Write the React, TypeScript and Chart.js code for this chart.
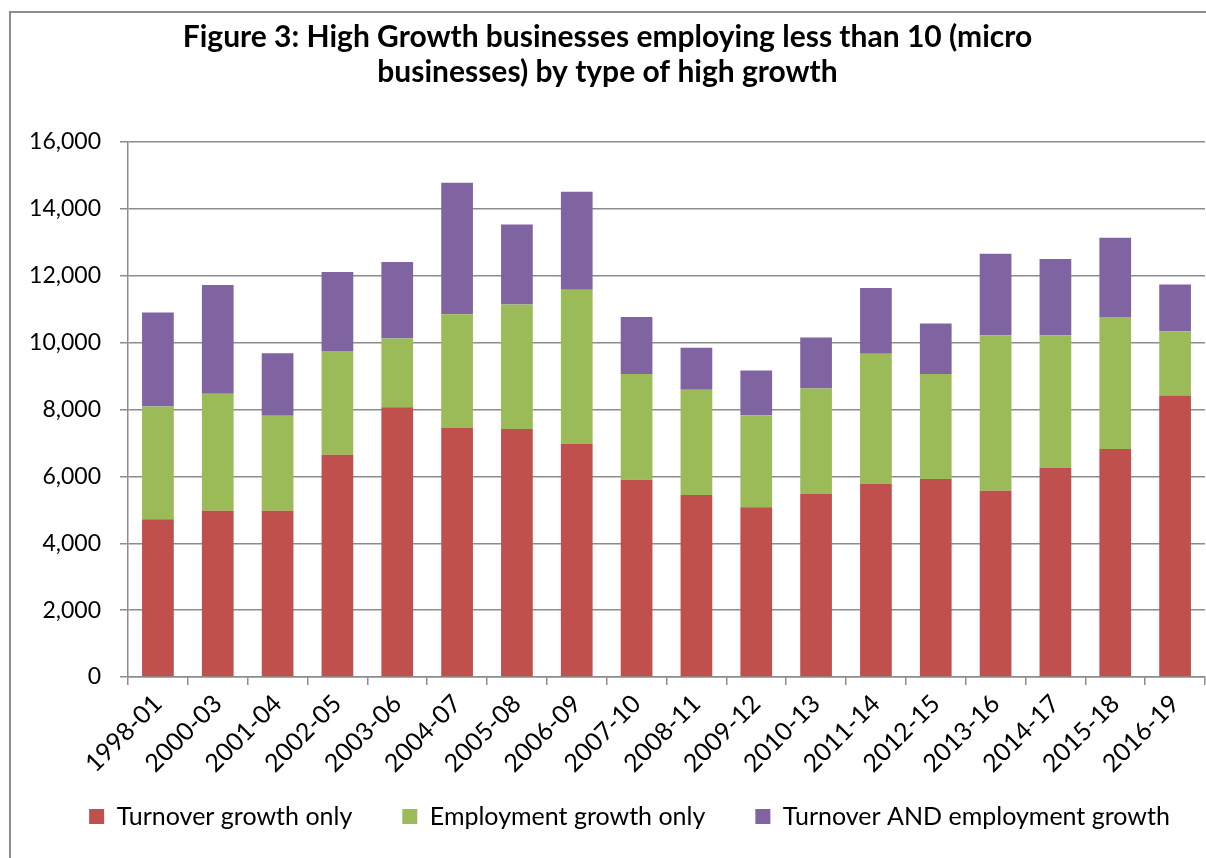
import React, { useEffect, useRef } from "react";
import { Chart, registerables } from "chart.js";

Chart.register(...registerables);

const categories = [
  "1998-01", "2000-03", "2001-04", "2002-05", "2003-06", "2004-07", "2005-08", "2006-09", "2007-10",
  "2008-11", "2009-12", "2010-13", "2011-14", "2012-15", "2013-16", "2014-17", "2015-18", "2016-19",
];
const turnoverOnly = [4720, 4970, 4970, 6650, 8070, 7450, 7420, 6970, 5900, 5440, 5080, 5470, 5770, 5920, 5570, 6260, 6820, 8420];
const employmentOnly = [3370, 3500, 2840, 3100, 2050, 3400, 3720, 4610, 3160, 3150, 2750, 3160, 3900, 3140, 4650, 3960, 3950, 1920];
const turnoverAndEmployment = [2810, 3250, 1870, 2360, 2290, 3930, 2390, 2930, 1710, 1260, 1340, 1520, 1960, 1510, 2440, 2280, 2370, 1400];
const seriesNames = ["Turnover growth only", "Employment growth only", "Turnover AND employment growth"];
const titleLines = ["Figure 3: High Growth businesses employing less than 10 (micro", "businesses) by type of high growth"];
const yMin = 0;
const yMax = 16000;
const yStep = 2000;

const FONT = "Lato, 'Open Sans', sans-serif";
const GRID = "#8c8c8c";

export default function App() {
  const ref = useRef<HTMLCanvasElement | null>(null);

  useEffect(() => {
    if (!ref.current) return;
    const chart = new Chart(ref.current, {
      type: "bar",
      data: {
        labels: categories,
        datasets: [
          { label: seriesNames[0], data: turnoverOnly, backgroundColor: "#C0504D", borderWidth: 0 },
          { label: seriesNames[1], data: employmentOnly, backgroundColor: "#9BBB59", borderWidth: 0 },
          { label: seriesNames[2], data: turnoverAndEmployment, backgroundColor: "#8064A2", borderWidth: 0 },
        ],
      },
      options: {
        responsive: false,
        animation: false,
        devicePixelRatio: 1,
        layout: { padding: { left: 0, right: 7, top: 0, bottom: 0 } },
        datasets: { bar: { barPercentage: 0.53, categoryPercentage: 1 } },
        scales: {
          x: {
            stacked: true,
            grid: { display: true, drawOnChartArea: false, drawTicks: true, tickLength: 8, color: GRID, lineWidth: 1.5, offset: true },
            border: { display: true, color: GRID, width: 1.5 },
            ticks: { color: "#000", font: { family: FONT, size: 25 }, minRotation: 45, maxRotation: 45, padding: 4, autoSkip: false },
            afterFit: (s: any) => { s.height = 120; },
          },
          y: {
            stacked: true,
            min: yMin,
            max: yMax,
            grid: { display: true, drawOnChartArea: true, drawTicks: true, tickLength: 8, color: GRID, lineWidth: 1.5 },
            border: { display: true, color: GRID, width: 1.5 },
            ticks: {
              stepSize: yStep,
              color: "#000",
              font: { family: FONT, size: 23 },
              padding: 19,
              callback: (v: any) => Number(v).toLocaleString("en-US"),
            },
            afterFit: (s: any) => { s.width = 118; },
          },
        },
        plugins: {
          title: {
            display: true,
            text: titleLines,
            color: "#000",
            font: { family: FONT, size: 30, weight: "bold", lineHeight: 1.1667 },
            padding: { top: 6.5, bottom: 52.5 },
          },
          legend: {
            position: "bottom",
            labels: {
              color: "#000",
              font: { family: FONT, size: 25 },
              boxWidth: 15,
              boxHeight: 15,
              padding: 50,
            },
          },
          tooltip: { enabled: false },
        },
      },
      plugins: [
        {
          id: "shiftLegend",
          afterUpdate(c: any) {
            const l = c.legend;
            if (l) {
              l.left += 22;
              l.right += 22;
              l.top -= 43;
              l.bottom -= 43;
            }
          },
        },
      ],
    } as any);
    return () => chart.destroy();
  }, []);

  return (
    <div style={{ position: "fixed", left: 0, top: 0, width: 1206, height: 858, overflow: "hidden", background: "#fff" }}>
      <div
        style={{
          position: "absolute",
          left: 9,
          top: 11,
          width: 1300,
          height: 1000,
          borderLeft: "2px solid #8c8c8c",
          borderTop: "2px solid #8c8c8c",
        }}
      />
      <canvas
        ref={ref}
        width={1202}
        height={869}
        style={{ position: "absolute", left: 10, top: 13, width: 1202, height: 869 }}
      />
    </div>
  );
}
